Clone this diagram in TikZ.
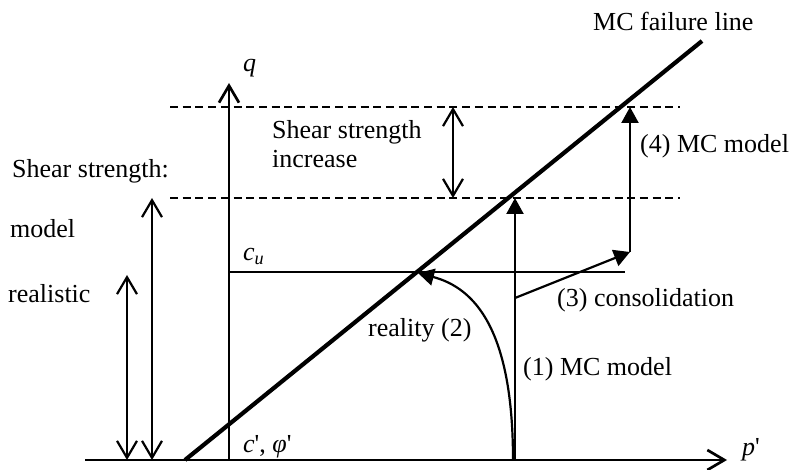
\documentclass[tikz,border=0pt]{standalone}
\usepackage{fontspec}
\setmainfont{Liberation Serif}
\usetikzlibrary{arrows.meta}
\begin{document}
\begin{tikzpicture}[x=1pt,y=-1pt,
  lbl/.style={font=\fontsize{26}{30}\selectfont, inner sep=0pt, anchor=base west},
  axis/.style={line width=2.7pt},
  thin/.style={line width=2.2pt},
  openarrow/.style={-{Straight Barb[length=17pt,width=20pt]}},
  twoarrow/.style={{Straight Barb[length=17pt,width=20pt]}-{Straight Barb[length=17pt,width=20pt]}},
  filledarrow/.style={-{Triangle[length=16pt,width=17pt]}},
  dashline/.style={line width=2pt, dash pattern=on 8pt off 4.7pt}]
\useasboundingbox (0,0) rectangle (795,470);
% coordinates
\coordinate (ax0) at (85,460);
\coordinate (o) at (185,460);
\coordinate (axE) at (727,460);
\coordinate (q0) at (229,460);
\coordinate (qE) at (229,83);
\coordinate (mcE) at (702,41);
\coordinate (dT0) at (170,107);
\coordinate (dT1) at (680,107);
\coordinate (dB0) at (170,198);
\coordinate (dB1) at (680,198);
\coordinate (siT) at (453,107);
\coordinate (siB) at (453,198);
\coordinate (cu0) at (229,272);
\coordinate (cu1) at (625,272);
\coordinate (p1) at (515,460);
\coordinate (p1E) at (515,198);
\coordinate (c3S) at (515,298);
\coordinate (c3E) at (630,252);
\coordinate (m4E) at (630,107);
\coordinate (rS) at (513,460);
\coordinate (rE) at (418,273);
\coordinate (mT) at (152,198);
\coordinate (mB) at (152,460);
\coordinate (rlT) at (127,275);
\coordinate (rlB) at (127,460);
% axes
\draw[line width=1.5pt] (ax0) -- (o);
\draw[axis, openarrow] (o) -- (axE);
\draw[axis, openarrow] (q0) -- (qE);
% dashed lines
\draw[dashline] (dT0) -- (dT1);
\draw[dashline] (dB0) -- (dB1);
% c_u line
\draw[axis] (cu0) -- (cu1);
% MC failure line
\draw[line width=4.2pt] (o) -- (mcE);
% arrows
\draw[thin, twoarrow] (siT) -- (siB);
\draw[thin, twoarrow] (mT) -- (mB);
\draw[thin, twoarrow] (rlT) -- (rlB);
\draw[thin, filledarrow] (p1) -- (p1E);
\draw[thin, filledarrow] (c3S) -- (c3E);
\draw[thin, filledarrow] (c3E) -- (m4E);
\draw[thin, filledarrow] (rS) .. controls (513,330) and (475,288) .. (rE);
% labels
\node[lbl] (lq) at (243,72) {\textit{q}};
\node[lbl] (lmc) at (593,31) {MC failure line};
\node[lbl] (lsi1) at (272,139) {Shear strength};
\node[lbl] (lsi2) at (272,168) {increase};
\node[lbl] (lss) at (12,178) {Shear strength:};
\node[lbl] (lmodel) at (10,238) {model};
\node[lbl] (lreal) at (8,303) {realistic};
\node[lbl] (lcu) at (243,261) {\textit{c}\textsubscript{\textit{u}}};
\node[lbl] (lcphi) at (243,452) {\textit{c}\textquotesingle, \textit{φ}\textquotesingle};
\node[lbl] (lreality) at (368,337) {reality (2)};
\node[lbl] (l3) at (557,307) {(3) consolidation};
\node[lbl] (l1) at (523,375) {(1) MC model};
\node[lbl] (l4) at (640,153) {(4) MC model};
\node[lbl] (lp) at (742,455) {\textit{p}\textquotesingle};
\end{tikzpicture}
\end{document}
